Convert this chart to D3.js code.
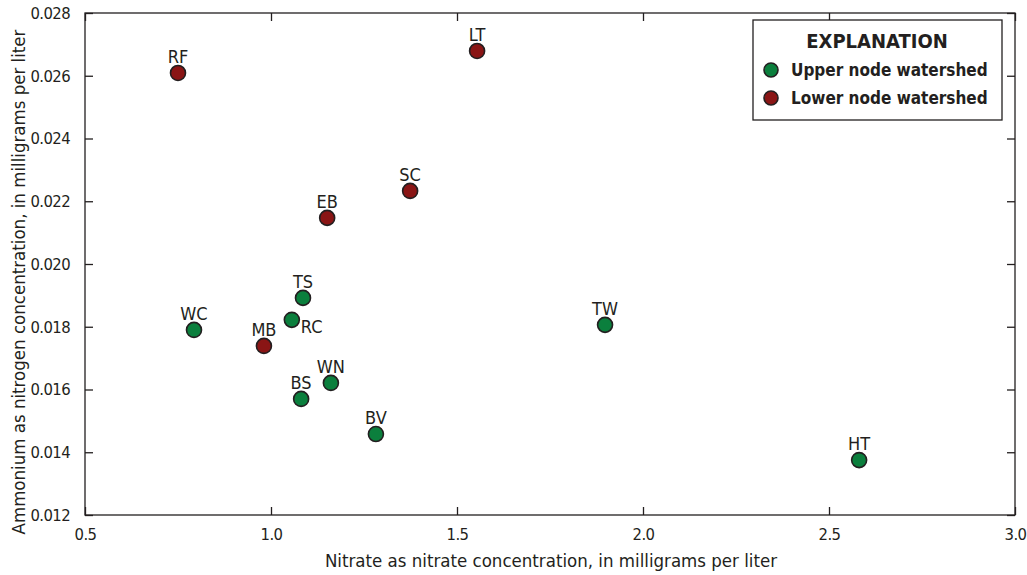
<!DOCTYPE html>
<html>
<head>
<meta charset="utf-8">
<script src="https://cdn.jsdelivr.net/npm/d3@7"></script>
<style>
  body { margin: 0; background: #fff; }
  text { font-family: "Liberation Sans Narrow", "DejaVu Sans Condensed", "Roboto", sans-serif; fill: #231f20; }
</style>
</head>
<body>
<div id="chart"></div>
<script>
// data
var sites = ["RF", "LT", "SC", "EB", "TS", "RC", "WC", "MB", "TW", "WN", "BS", "BV", "HT"];
var nitrate = [0.750, 1.554, 1.374, 1.151, 1.086, 1.056, 0.793, 0.981, 1.898, 1.161, 1.081, 1.282, 2.581];
var ammonium = [0.02609, 0.02679, 0.02233, 0.02147, 0.01892, 0.01822, 0.01790, 0.01739, 0.01806, 0.01621, 0.01570, 0.01458, 0.01375];
var node = ["Lower", "Lower", "Lower", "Lower", "Upper", "Upper", "Upper", "Lower", "Upper", "Upper", "Upper", "Upper", "Upper"];
var xTicks = [0.5, 1.0, 1.5, 2.0, 2.5, 3.0];
var yTicks = [0.012, 0.014, 0.016, 0.018, 0.020, 0.022, 0.024, 0.026, 0.028];

var colors = { Upper: "#0b7f3d", Lower: "#8a1515" };

var data = sites.map(function (s, i) {
  return { site: s, x: nitrate[i], y: ammonium[i], node: node[i] };
});

var svg = d3.select("#chart").append("svg")
  .attr("width", 1027)
  .attr("height", 575);

var pLeft = 85, pRight = 1015, pTop = 13, pBottom = 515;

var x = d3.scaleLinear().domain([0.5, 3.0]).range([pLeft, pRight]);
var y = d3.scaleLinear().domain([0.012, 0.028]).range([pBottom, pTop]);

// frame
svg.append("rect")
  .attr("x", pLeft).attr("y", pTop)
  .attr("width", pRight - pLeft).attr("height", pBottom - pTop)
  .attr("fill", "none").attr("stroke", "#231f20").attr("stroke-width", 1.3);

// axes with inward ticks
var xAxis = svg.append("g")
  .attr("transform", "translate(0," + pBottom + ")")
  .call(d3.axisBottom(x).tickValues(xTicks).tickFormat(d3.format(".1f")).tickSizeInner(-8).tickSizeOuter(0).tickPadding(13));
var xAxisTop = svg.append("g")
  .attr("transform", "translate(0," + pTop + ")")
  .call(d3.axisTop(x).tickValues(xTicks).tickFormat("").tickSizeInner(-8).tickSizeOuter(0));
var yAxis = svg.append("g")
  .attr("transform", "translate(" + pLeft + ",0)")
  .call(d3.axisLeft(y).tickValues(yTicks).tickFormat(d3.format(".3f")).tickSizeInner(-8).tickSizeOuter(0).tickPadding(15));
var yAxisRight = svg.append("g")
  .attr("transform", "translate(" + pRight + ",0)")
  .call(d3.axisRight(y).tickValues(yTicks).tickFormat("").tickSizeInner(-8).tickSizeOuter(0));

[xAxis, xAxisTop, yAxis, yAxisRight].forEach(function (g) {
  g.select(".domain").remove();
  g.selectAll("line").attr("stroke", "#231f20").attr("stroke-width", 1.3);
  g.selectAll("text").style("font-size", "16.5px").style("letter-spacing", "-0.6px").attr("fill", "#231f20")
    .style("font-family", '"Liberation Sans Narrow", "DejaVu Sans Condensed", sans-serif');
});

// axis titles
svg.append("text")
  .attr("x", 551)
  .attr("y", 567)
  .style("text-anchor", "middle")
  .style("font-size", "18.5px")
  .text("Nitrate as nitrate concentration, in milligrams per liter");

svg.append("text")
  .attr("transform", "rotate(-90)")
  .attr("x", -282)
  .attr("y", 25)
  .style("text-anchor", "middle")
  .style("font-size", "18.5px")
  .text("Ammonium as nitrogen concentration, in milligrams per liter");

// points
svg.selectAll("circle.pt")
  .data(data)
  .enter()
  .append("circle")
  .attr("class", "pt")
  .attr("cx", d => x(d.x))
  .attr("cy", d => y(d.y))
  .attr("r", 7.5)
  .attr("fill", d => colors[d.node])
  .attr("stroke", "#231f20")
  .attr("stroke-width", 1.6);

// site labels, above the point except RC
svg.selectAll("text.lbl")
  .data(data)
  .enter()
  .append("text")
  .attr("class", "lbl")
  .attr("x", d => d.site == "RC" ? x(d.x) + 9 : x(d.x))
  .attr("y", d => d.site == "RC" ? y(d.y) + 13 : y(d.y) - 10)
  .style("text-anchor", d => d.site == "RC" ? "start" : "middle")
  .style("font-size", "18px")
  .text(d => d.site);

// legend
var lg = svg.append("g").attr("transform", "translate(753,20)");
lg.append("rect")
  .attr("width", 249).attr("height", 100)
  .attr("fill", "#fff").attr("stroke", "#231f20").attr("stroke-width", 1.3);
lg.append("text")
  .attr("x", 124).attr("y", 28)
  .style("text-anchor", "middle")
  .style("font-size", "20px").style("font-weight", "bold")
  .text("EXPLANATION");
var items = [["Upper", "Upper node watershed"], ["Lower", "Lower node watershed"]];
items.forEach(function (it, i) {
  lg.append("circle")
    .attr("cx", 18).attr("cy", 50 + i * 28).attr("r", 7)
    .attr("fill", colors[it[0]]).attr("stroke", "#231f20").attr("stroke-width", 1.6);
  lg.append("text")
    .attr("x", 38).attr("y", 56 + i * 28)
    .style("font-size", "17px").style("font-weight", "bold")
    .text(it[1]);
});
</script>
</body>
</html>
